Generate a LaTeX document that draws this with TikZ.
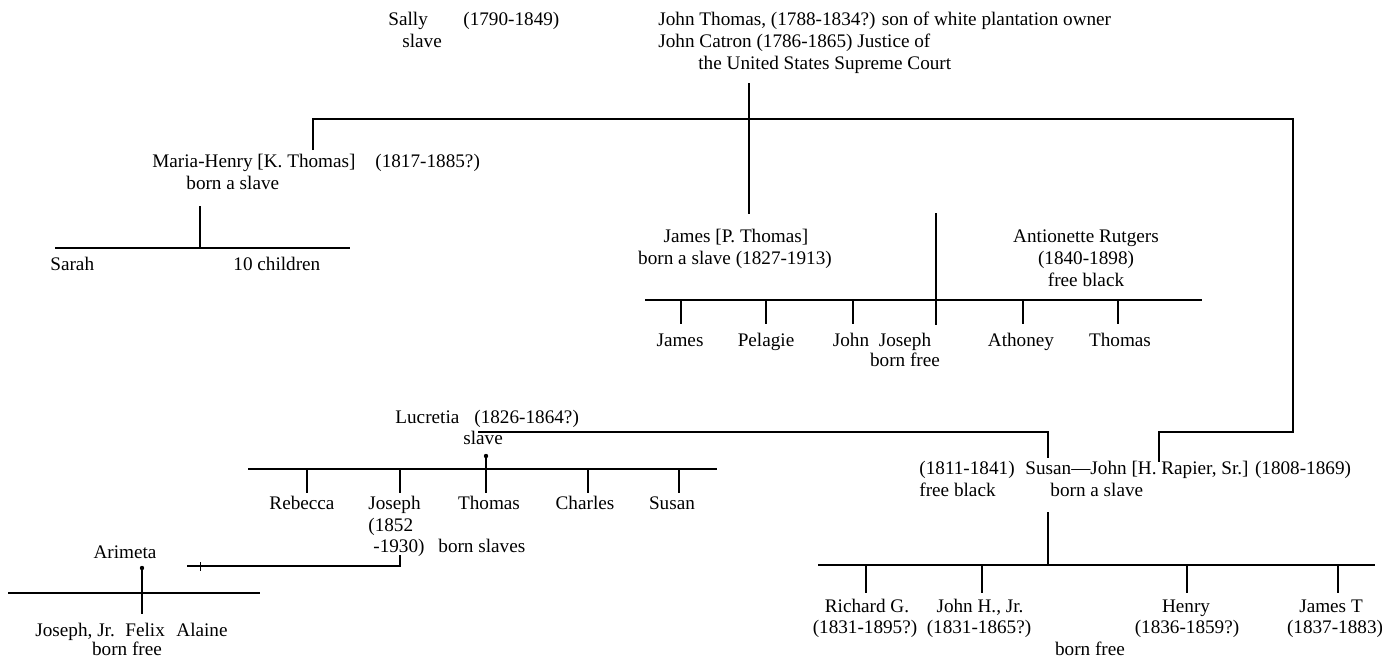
\documentclass[tikz,border=0pt]{standalone}
\usepackage{fontspec}
\setmainfont{Liberation Serif}
\begin{document}
\begin{tikzpicture}[x=0.5pt,y=-0.5pt,
  lbl/.style={font=\fontsize{9.6}{11}\selectfont, inner sep=0pt, text=black},
  lw/.style={lbl, anchor=base west},
  lc/.style={lbl, anchor=base},
  ln/.style={line width=0.9pt, draw=black},
  tick/.style={line width=0.9pt, draw=black},
  knot/.style={circle, fill=black, inner sep=0pt, minimum size=2.2pt}]
\useasboundingbox (0,0) rectangle (1382,660);

% ---------- top generation ----------
\node[lw] (sally)   at (388,25) {Sally};
\node[lw] (sallyst) at (402,47) {slave};
\node[lw] (sallyd)  at (463,25) {(1790-1849)};
\node[lw] (jt1) at (658,25) {John Thomas, (1788-1834?) son of white plantation owner};
\node[lw] (jt2) at (658,47) {John Catron (1786-1865) Justice of};
\node[lw] (jt3) at (698,69) {the United States Supreme Court};

\coordinate (ctop) at (749,83);
\coordinate (cmid) at (749,119);
\coordinate (cbot) at (749,214);
\coordinate (tl) at (313,119);
\coordinate (tr) at (1293,119);
\coordinate (mdrop) at (313,150);
\coordinate (rapc) at (1293,432);
\coordinate (rapl) at (1159,432);
\coordinate (rapd) at (1159,462);
\draw[ln] (mdrop) -- (tl) -- (tr) -- (rapc) -- (rapl) -- (rapd);
\draw[ln] (ctop) -- (cbot);

% ---------- Maria-Henry ----------
\node[lw] (maria)   at (152,167) {Maria-Henry [K. Thomas]};
\node[lw] (mariad)  at (375,167) {(1817-1885?)};
\node[lw] (mariast) at (186,189) {born a slave};
\coordinate (mtop) at (200,206);
\coordinate (mbar) at (200,248);
\coordinate (mbl) at (55,248);
\coordinate (mbr) at (350,248);
\draw[ln] (mtop) -- (mbar);
\draw[ln] (mbl) -- (mbr);
\node[lw] (sarah) at (50,270) {Sarah};
\node[lw] (ten)   at (233,270) {10 children};

% ---------- James P. Thomas ----------
\node[lc] (james)   at (736,242) {James [P. Thomas]};
\node[lc] (jamesst) at (735,264) {born a slave (1827-1913)};
\node[lc] (ant1) at (1086,242) {Antionette Rutgers};
\node[lc] (ant2) at (1086,264) {(1840-1898)};
\node[lc] (ant3) at (1086,286) {free black};
\coordinate (jtop) at (936,213);
\coordinate (jbar) at (936,300);
\coordinate (jbl) at (645,300);
\coordinate (jbr) at (1202,300);
\draw[ln] (jbl) -- (jbr);
\draw[ln] (jtop) -- (936,325);
\foreach \x/\n in {681/a,766/b,853/c,1023/e,1118/f}{
  \coordinate (jt\n) at (\x,300);
  \draw[tick] (jt\n) -- ++(0,24);
}
\node[lc] (kjames)   at (680,346) {James};
\node[lc] (kpelagie) at (766,346) {Pelagie};
\node[lc] (kjohn)    at (851,346) {John};
\node[lc] (kjoseph)  at (905,346) {Joseph};
\node[lc] (kathoney) at (1021,346) {Athoney};
\node[lc] (kthomas)  at (1120,346) {Thomas};
\node[lc] (kfree)    at (905,366) {born free};

% ---------- Lucretia ----------
\node[lw] (luc)   at (395,423) {Lucretia};
\node[lw] (lucd)  at (474,423) {(1826-1864?)};
\node[lw] (lucst) at (463,444) {slave};
\coordinate (lline) at (478,432);
\coordinate (sline) at (1048,432);
\coordinate (sdown) at (1048,458);
\draw[ln] (lline) -- (sline) -- (sdown);
\coordinate (ltop) at (486,456);
\coordinate (lbot) at (486,493);
\node[knot] (lknot) at (ltop) {};
\draw[ln] (lknot.center) -- (lbot);
\coordinate (lbl) at (248,469);
\coordinate (lbr) at (717,469);
\draw[ln] (lbl) -- (lbr);
\foreach \x/\n in {307/a,400/b,588/d,679/e}{
  \coordinate (lt\n) at (\x,469);
  \draw[tick] (lt\n) -- ++(0,24);
}
\node[lc] (rebecca) at (302,509) {Rebecca};
\node[lw] (ljoseph) at (368,509) {Joseph};
\node[lc] (lthomas) at (489,509) {Thomas};
\node[lc] (charles) at (585,509) {Charles};
\node[lc] (lsusan)  at (672,509) {Susan};
\node[lw] (ljd1) at (368,531) {(1852};
\node[lw] (ljd2) at (373,552) {-1930)};
\node[lw] (bslaves) at (438,552) {born slaves};
\coordinate (jdtop) at (400,555);
\coordinate (jdc) at (400,566);
\coordinate (jdl) at (187,566);
\draw[ln] (jdtop) -- (jdc) -- (jdl);
\draw[line width=0.5pt] (200,562) -- (200,571);

% ---------- Arimeta ----------
\node[lc] (arimeta) at (125,558) {Arimeta};
\node[knot] (aknot) at (142,568) {};
\coordinate (abot) at (142,614);
\draw[ln] (aknot.center) -- (abot);
\coordinate (abl) at (8,593);
\coordinate (abr) at (260,593);
\draw[ln] (abl) -- (abr);
\node[lw] (jojr)   at (35,636) {Joseph, Jr.};
\node[lw] (felix)  at (125,636) {Felix};
\node[lw] (alaine) at (176,636) {Alaine};
\node[lc] (afree)  at (127,655) {born free};

% ---------- Susan -- John H. Rapier ----------
\node[lw] (sdate)  at (919,474) {(1811-1841)};
\node[lw] (sfree)  at (919,496) {free black};
\node[lw] (rapier) at (1025,474) {Susan—John [H. Rapier, Sr.] (1808-1869)};
\node[lw] (rapst)  at (1050,496) {born a slave};
\coordinate (rtop) at (1048,512);
\coordinate (rbar) at (1048,565);
\draw[ln] (rtop) -- (rbar);
\coordinate (rbl) at (818,565);
\coordinate (rbr) at (1375,565);
\draw[ln] (rbl) -- (rbr);
\foreach \x/\n in {866/a,982/b,1187/c,1338/d}{
  \coordinate (rt\n) at (\x,565);
  \draw[tick] (rt\n) -- ++(0,28);
}
\node[lc] (richard) at (867,612) {Richard G.};
\node[lc] (johnjr)  at (980,612) {John H., Jr.};
\node[lc] (henry)   at (1186,612) {Henry};
\node[lc] (jamest)  at (1331,612) {James T};
\node[lc] (rd1) at (865,633) {(1831-1895?)};
\node[lc] (rd2) at (979,633) {(1831-1865?)};
\node[lc] (rd3) at (1187,633) {(1836-1859?)};
\node[lc] (rd4) at (1335,633) {(1837-1883)};
\node[lc] (rfree) at (1090,655) {born free};
\end{tikzpicture}
\end{document}
